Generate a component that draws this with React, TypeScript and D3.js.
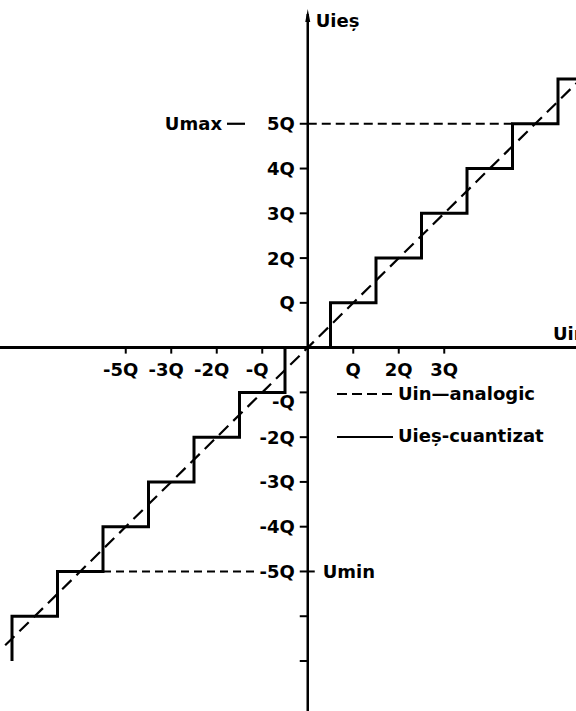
import React from "react";
import * as d3 from "d3";

// Quantizer staircase: edges (in units of Q) and levels
const stairStart = { x: -6.5, y: -7 };
const stairEdges = [-6.5, -5.5, -4.5, -3.5, -2.5, -1.5, -0.5, 0.5, 1.5, 2.5, 3.5, 4.5, 5.5, 6.3];
const stairLevels = [-6, -5, -4, -3, -2, -1, 0, 1, 2, 3, 4, 5, 6, 6];

// Analog input line (y = x)
const analogX = [-6.65, 6.3];
const analogY = [-6.65, 6.3];

// Y-axis ticks
const yTickValues = [5, 4, 3, 2, 1, -1, -2, -3, -4, -5, -6, -7];
const yTickLabels = ["5Q", "4Q", "3Q", "2Q", "Q", "-Q", "-2Q", "-3Q", "-4Q", "-5Q", "", ""];

// X-axis ticks (labels as printed in the original)
const xTickValues = [-4, -3, -2, -1, 1, 2, 3];
const xTickLabels = ["-5Q", "-3Q", "-2Q", "-Q", "Q", "2Q", "3Q"];

// Limit levels
const umaxLevel = 5;
const uminLevel = -5;

const W = 576;
const H = 711;
const FONT = "'DejaVu Sans', sans-serif";

export default function App() {
  const x = d3.scaleLinear().domain([-6.5, 5.5]).range([12, 558]);
  const y = d3.scaleLinear().domain([-7, 6]).range([661, 79]);
  const x0 = x(0);
  const y0 = y(0);

  const stairPts: [number, number][] = [[stairStart.x, stairStart.y]];
  stairEdges.forEach((e, i) => stairPts.push([e, stairLevels[i]]));
  const stairLine = d3
    .line<[number, number]>()
    .x((d) => x(d[0]))
    .y((d) => y(d[1]))
    .curve(d3.curveStepAfter);
  const stairPath = stairLine(stairPts) || "";

  const analogPath =
    d3
      .line<number>()
      .x((d) => x(d))
      .y((_, i) => y(analogY[i]))(analogX) || "";

  const txt = { fontFamily: FONT, fontWeight: 700, fontSize: 18, fill: "#000" } as const;

  return (
    <svg
      width={W}
      height={H}
      viewBox={`0 0 ${W} ${H}`}
      style={{ position: "absolute", left: 0, top: 0, background: "#fff" }}
    >
      <rect x={0} y={0} width={W} height={H} fill="#fff" />
      {/* Axes */}
      <line x1={0} x2={W} y1={y0} y2={y0} stroke="#000" strokeWidth={3} />
      <line x1={x0} x2={x0} y1={14} y2={H} stroke="#000" strokeWidth={2.5} />
      <path d={`M${x0},9 L${x0 + 2.5},22 L${x0 - 2.5},22 Z`} fill="#000" />

      {/* Y ticks */}
      {yTickValues.map((v, i) => (
        <g key={"yt" + v}>
          <line
            x1={x0 - 8}
            x2={v === uminLevel ? x0 + 7 : x0}
            y1={y(v)}
            y2={y(v)}
            stroke="#000"
            strokeWidth={2}
          />
          {yTickLabels[i] && (
            <text
              x={x0 - 13}
              y={y(v) + 6.5 + (v === -1 ? 9 : 0)}
              textAnchor="end"
              style={txt}
            >
              {yTickLabels[i]}
            </text>
          )}
        </g>
      ))}

      {/* X ticks */}
      {xTickValues.map((v, i) => (
        <g key={"xt" + v}>
          <line x1={x(v)} x2={x(v)} y1={y0} y2={y0 + 6} stroke="#000" strokeWidth={2} />
          <text x={x(v) + (v < 0 ? -5 : 0)} y={y0 + 28} textAnchor="middle" style={txt}>
            {xTickLabels[i]}
          </text>
        </g>
      ))}

      {/* Umax / Umin */}
      <line
        x1={x0}
        x2={x(umaxLevel - 0.5)}
        y1={y(umaxLevel)}
        y2={y(umaxLevel)}
        stroke="#000"
        strokeWidth={2}
        strokeDasharray="9 5"
      />
      <line
        x1={x(uminLevel + 0.5)}
        x2={x0 - 50}
        y1={y(uminLevel)}
        y2={y(uminLevel)}
        stroke="#000"
        strokeWidth={2}
        strokeDasharray="8 5"
      />
      <text x={222} y={y(umaxLevel) + 6.5} textAnchor="end" style={txt}>
        Umax
      </text>
      <line x1={227} x2={245} y1={y(umaxLevel)} y2={y(umaxLevel)} stroke="#000" strokeWidth={2.2} />
      <text x={x0 + 15} y={y(uminLevel) + 6.5} style={txt}>
        Umin
      </text>

      {/* Analog dashed line */}
      <path d={analogPath} fill="none" stroke="#000" strokeWidth={2.2} strokeDasharray="13 7" />
      {/* Quantized staircase */}
      <path d={stairPath} fill="none" stroke="#000" strokeWidth={3} strokeLinejoin="miter" />

      {/* Axis titles */}
      <text x={x0 + 8} y={27} style={txt}>
        Uieș
      </text>
      <text x={553} y={340} style={txt}>
        Uin
      </text>

      {/* Legend */}
      <line x1={337} x2={392} y1={394} y2={394} stroke="#000" strokeWidth={2.2} strokeDasharray="10 5" />
      <text x={398} y={400} style={txt}>
        Uin—analogic
      </text>
      <line x1={337} x2={393} y1={437} y2={437} stroke="#000" strokeWidth={2.2} />
      <text x={398} y={442} style={txt}>
        Uieș-cuantizat
      </text>
    </svg>
  );
}
